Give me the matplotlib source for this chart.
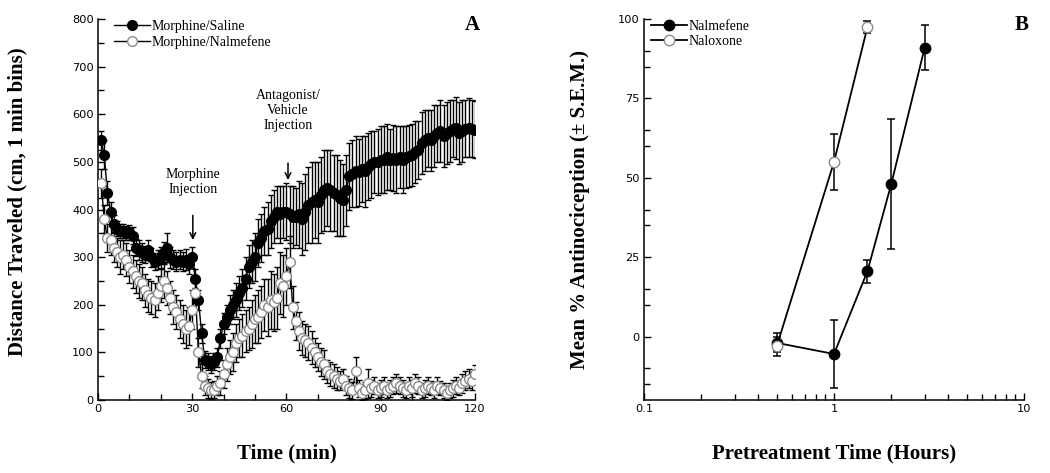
import numpy as np
import matplotlib.pyplot as plt
from matplotlib.lines import Line2D
from matplotlib.ticker import FixedLocator, LogLocator, NullFormatter

# --- panel A data (1 min bins) ---
minutes = np.arange(1, 121)

saline = [545, 515, 435, 395, 370, 360, 355, 355, 350, 352,
          345, 320, 315, 310, 305, 315, 300, 290, 295, 300,
          310, 320, 300, 295, 290, 295, 290, 295, 285, 300,
          255, 210, 140, 85, 80, 75, 80, 90, 130, 160,
          175, 190, 200, 210, 225, 235, 255, 280, 290, 300,
          330, 340, 355, 360, 375, 385, 395, 390, 395, 395,
          390, 385, 385, 390, 380, 395, 410, 415, 420, 415,
          430, 440, 445, 440, 435, 430, 425, 420, 440, 470,
          475, 480, 478, 485, 480, 490, 495, 500, 500, 505,
          505, 510, 505, 508, 505, 510, 505, 510, 512, 515,
          520, 525, 540, 545, 550, 545, 555, 560, 565, 555,
          560, 565, 570, 572, 560, 565, 570, 572, 570, 568]
saline_err = [20, 30, 25, 20, 18, 15, 15, 15, 15, 15,
              18, 18, 20, 20, 18, 20, 20, 18, 20, 22,
              22, 30, 22, 20, 20, 20, 20, 22, 20, 22,
              20, 20, 20, 18, 18, 18, 18, 20, 20, 22,
              25, 30, 30, 35, 35, 40, 45, 45, 45, 50,
              50, 50, 50, 55, 55, 55, 55, 60, 55, 60,
              60, 65, 60, 70, 75, 80, 80, 85, 80, 85,
              80, 85, 80, 85, 80, 85, 80, 75, 75, 70,
              70, 75, 70, 70, 75, 70, 70, 65, 70, 70,
              70, 70, 65, 70, 70, 65, 70, 65, 65, 65,
              65, 60, 65, 65, 60, 65, 65, 60, 65, 65,
              65, 65, 60, 65, 65, 65, 60, 62, 60, 60]

nalmefene_a = [455, 380, 340, 335, 320, 310, 300, 305, 295, 280,
               270, 260, 250, 245, 230, 220, 215, 210, 225, 240,
               250, 235, 215, 195, 185, 170, 160, 150, 155, 190,
               225, 100, 50, 30, 25, 20, 22, 30, 35, 55,
               75, 90, 100, 120, 130, 135, 145, 150, 160, 170,
               175, 185, 200, 195, 210, 205, 215, 245, 240, 260,
               290, 195, 165, 145, 130, 125, 120, 110, 100, 90,
               80, 75, 60, 55, 50, 45, 40, 45, 30, 25,
               20, 60, 25, 15, 20, 35, 25, 30, 20, 25,
               30, 20, 25, 30, 35, 30, 25, 20, 30, 25,
               35, 30, 20, 25, 30, 25, 20, 30, 25, 20,
               15, 20, 25, 30, 25, 35, 40, 45, 40, 55]
nalmefene_a_err = [30, 30, 30, 30, 30, 30, 35, 30, 35, 35,
                   35, 35, 35, 35, 35, 35, 35, 35, 35, 35,
                   35, 35, 35, 35, 35, 40, 40, 40, 40, 40,
                   35, 30, 25, 20, 20, 18, 18, 20, 25, 30,
                   35, 35, 40, 40, 40, 45, 45, 45, 50, 50,
                   55, 55, 55, 60, 60, 60, 65, 65, 65, 60,
                   55, 45, 40, 40, 35, 35, 35, 35, 30, 30,
                   30, 30, 25, 25, 25, 25, 20, 20, 20, 20,
                   18, 30, 18, 15, 18, 30, 18, 18, 15, 18,
                   18, 15, 18, 18, 20, 18, 18, 15, 18, 18,
                   20, 18, 15, 18, 18, 15, 15, 18, 15, 15,
                   15, 15, 18, 18, 15, 20, 20, 20, 18, 18]

# --- panel B data ---
hours_nalmefene = [0.5, 1, 1.5, 2, 3]
nalmefene_b = [-2, -5.5, 20.6, 48, 91]
nalmefene_b_err = [3, 10.7, 3.6, 20.5, 7]

hours_naloxone = [0.5, 1, 1.5]
naloxone_b = [-3, 55, 97.5]
naloxone_b_err = [3, 8.7, 2]

serif = 'Liberation Serif'
plt.rcParams['font.family'] = 'DejaVu Sans'

fig = plt.figure(figsize=(10.5, 4.73), dpi=100)
axA = fig.add_axes([0.0933, 0.1543, 0.359, 0.8055])
axB = fig.add_axes([0.6133, 0.1543, 0.362, 0.8055])

open_edge = '#8c8c8c'

# Panel A
axA.errorbar(minutes, saline, yerr=saline_err, fmt='-o', color='black',
             mfc='black', mec='black', ms=7, lw=1, elinewidth=1,
             capsize=2.5, capthick=1, zorder=2)
axA.errorbar(minutes, nalmefene_a, yerr=nalmefene_a_err, fmt='-o', color='black',
             mfc='white', mec=open_edge, ms=7, lw=1, elinewidth=1,
             capsize=2.5, capthick=1, zorder=3)

axA.set_xlim(0, 120)
axA.set_ylim(0, 800)
axA.set_xticks([0, 30, 60, 90, 120])
axA.xaxis.set_minor_locator(FixedLocator(np.arange(0, 121, 10)))
axA.set_yticks(np.arange(0, 801, 100))
axA.yaxis.set_minor_locator(FixedLocator(np.arange(50, 800, 100)))

axA.annotate('Morphine\nInjection', xy=(30.2, 336), xytext=(30.2, 458),
             ha='center', va='center', fontsize=10, family=serif,
             arrowprops=dict(arrowstyle='->', lw=1.1, color='black',
                             shrinkA=12, shrinkB=0))
axA.annotate('Antagonist/\nVehicle\nInjection', xy=(60.5, 462), xytext=(60.5, 607),
             ha='center', va='center', fontsize=10, family=serif,
             arrowprops=dict(arrowstyle='->', lw=1.1, color='black',
                             shrinkA=20, shrinkB=0))

handlesA = [Line2D([], [], color='black', lw=1, marker='o', ms=7,
                   mfc='black', mec='black'),
            Line2D([], [], color='black', lw=1, marker='o', ms=7,
                   mfc='white', mec=open_edge)]
axA.legend(handlesA, ['Morphine/Saline', 'Morphine/Nalmefene'],
           loc='upper left', bbox_to_anchor=(0.025, 1.015), frameon=False,
           prop={'family': serif, 'size': 10}, handlelength=2.6,
           handletextpad=0.1, borderpad=0, labelspacing=0.15)
axA.text(1.012, 0.984, 'A', transform=axA.transAxes, ha='right', va='center',
         fontsize=15, fontweight='bold', family=serif)

axA.set_xlabel('Time (min)', fontsize=15, fontweight='bold', family=serif)
axA.set_ylabel('Distance Traveled (cm, 1 min bins)', fontsize=15,
               fontweight='bold', family=serif)
axA.xaxis.set_label_coords(0.5, -0.115)
axA.yaxis.set_label_coords(-0.186, 0.52)

# Panel B
axB.errorbar(hours_nalmefene, nalmefene_b, yerr=nalmefene_b_err, fmt='-o',
             color='black', mfc='black', mec='black', ms=7.5, lw=1.3,
             elinewidth=1.1, capsize=3, capthick=1.1, zorder=2)
axB.errorbar(hours_naloxone, naloxone_b, yerr=naloxone_b_err, fmt='-o',
             color='black', mfc='white', mec=open_edge, ms=7.5, lw=1.3,
             elinewidth=1.1, capsize=3, capthick=1.1, zorder=3)

axB.set_xscale('log')
axB.set_xlim(0.1, 10)
axB.set_ylim(-20, 100)
axB.set_xticks([0.1, 1, 10])
axB.set_xticklabels(['0.1', '1', '10'])
axB.xaxis.set_minor_locator(LogLocator(base=10, subs=np.arange(2, 10)))
axB.xaxis.set_minor_formatter(NullFormatter())
axB.set_yticks([0, 25, 50, 75, 100])
axB.yaxis.set_minor_locator(FixedLocator([-15, -10, 10, 15, 35, 40, 60, 65, 85, 90]))

handlesB = [Line2D([], [], color='black', lw=1.3, marker='o', ms=7.5,
                   mfc='black', mec='black'),
            Line2D([], [], color='black', lw=1.3, marker='o', ms=7.5,
                   mfc='white', mec=open_edge)]
axB.legend(handlesB, ['Nalmefene', 'Naloxone'],
           loc='upper left', bbox_to_anchor=(0.0, 1.015), frameon=False,
           prop={'family': serif, 'size': 10}, handlelength=2.6,
           handletextpad=0.1, borderpad=0, labelspacing=0.1)
axB.text(1.012, 0.984, 'B', transform=axB.transAxes, ha='right', va='center',
         fontsize=15, fontweight='bold', family=serif)

axB.set_xlabel('Pretreatment Time (Hours)', fontsize=15, fontweight='bold', family=serif)
axB.set_ylabel('Mean % Antinociception (\u00b1 S.E.M.)', fontsize=15,
               fontweight='bold', family=serif)
axB.xaxis.set_label_coords(0.5, -0.115)
axB.yaxis.set_label_coords(-0.142, 0.5)

for ax in (axA, axB):
    for s in ('top', 'right'):
        ax.spines[s].set_visible(False)
    for s in ('left', 'bottom'):
        ax.spines[s].set_linewidth(1.1)
    ax.tick_params(which='both', direction='in', width=1, labelsize=8.2, pad=3)
    ax.tick_params(which='major', length=5)
    ax.tick_params(which='minor', length=4)

fig.savefig('out.png', dpi=100)
